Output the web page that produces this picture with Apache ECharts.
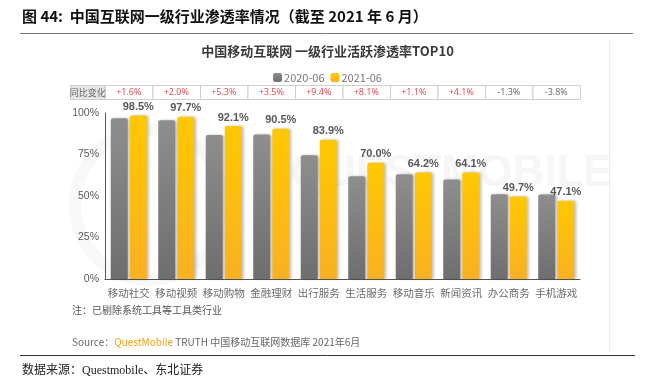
<!DOCTYPE html>
<html>
<head>
<meta charset="utf-8">
<script src="https://cdn.jsdelivr.net/npm/echarts@6/dist/echarts.min.js"></script>
<style>
html,body{margin:0;padding:0;background:#fff;}
#c{width:655px;height:387px;}
</style>
</head>
<body>
<div id="c"></div>
<script>
var categories = ['移动社交','移动视频','移动购物','金融理财','出行服务','生活服务','移动音乐','新闻资讯','办公商务','手机游戏'];
var v2020 = [96.9, 95.7, 86.8, 87.0, 74.5, 61.9, 63.1, 60.0, 51.0, 50.9];
var v2021 = [98.5, 97.7, 92.1, 90.5, 83.9, 70.0, 64.2, 64.1, 49.7, 47.1];
var yoy = ['+1.6%','+2.0%','+5.3%','+3.5%','+9.4%','+8.1%','+1.1%','+4.1%','-1.3%','-3.8%'];
var seriesNames = ['2020-06','2021-06'];
var yTicks = [0, 25, 50, 75, 100];

var CJK = '"Noto Sans CJK SC", "Liberation Sans", sans-serif';
var chart = echarts.init(document.getElementById('c'), null, {renderer: 'canvas'});

var option = {
  animation: false,
  backgroundColor: '#fff',
  grid: {left: 105, right: 75, top: 113, bottom: 108},
  legend: {
    data: seriesNames,
    top: 67, left: 'center',
    itemWidth: 9, itemHeight: 9, itemGap: 6,
    icon: 'roundRect',
    textStyle: {fontSize: 11, color: '#777', fontFamily: CJK, padding: [0,0,0,-3]}
  },
  xAxis: {
    type: 'category', data: categories,
    axisLine: {lineStyle: {color: '#555', width: 1}},
    axisTick: {show: false},
    axisLabel: {fontSize: 10.5, color: '#6a6a6a', fontFamily: CJK, margin: 9, interval: 0}
  },
  yAxis: {
    type: 'value', min: 0, max: 100, interval: 25,
    axisLine: {show: true, lineStyle: {color: '#555', width: 1}},
    axisTick: {show: false},
    splitLine: {show: false},
    axisLabel: {formatter: '{value}%', fontSize: 10.5, color: '#595959', fontFamily: '"Liberation Sans", sans-serif', margin: 6}
  },
  series: [
    {
      name: seriesNames[0], type: 'bar', data: v2020, barWidth: 17, barGap: '12%',
      itemStyle: {
        borderRadius: [2,2,0,0],
        color: new echarts.graphic.LinearGradient(0,0,0,1,[{offset:0,color:'#8e8e8e'},{offset:1,color:'#6e6e6e'}]),
        shadowColor: 'rgba(0,0,0,0.25)', shadowBlur: 3, shadowOffsetX: 2, shadowOffsetY: 0
      }
    },
    {
      name: seriesNames[1], type: 'bar', data: v2021, barWidth: 17,
      itemStyle: {
        borderRadius: [2,2,0,0],
        color: new echarts.graphic.LinearGradient(0,0,0,1,[{offset:0,color:'#ffc800'},{offset:1,color:'#f9b122'}]),
        shadowColor: 'rgba(0,0,0,0.25)', shadowBlur: 3, shadowOffsetX: 2, shadowOffsetY: 0
      },
      label: {
        show: true, position: 'top', distance: 3,
        formatter: function(p){ return p.value.toFixed(1) + '%'; },
        fontSize: 11, fontWeight: 'bold', color: '#585858', fontFamily: '"Liberation Sans", sans-serif'
      }
    }
  ]
};
chart.setOption(option);

var g = [];
// faint watermark
g.push({type:'text', z:-10, left: 290, top: 152, style:{text:'QUESTMOBILE', font:'bold 44px "Liberation Sans", sans-serif', fill:'#f6f6f6'}});
g.push({type:'circle', z:-10, shape:{cx:150, cy:205, r:75}, style:{fill:'none', stroke:'#f8f8f8', lineWidth:12}});
// header
g.push({type:'text', left: 22, top: 9, style:{text:'图 44:  中国互联网一级行业渗透率情况（截至 2021 年 6 月）', font:'bold 15px "Noto Sans CJK SC", serif', fill:'#111'}});
g.push({type:'line', shape:{x1:20, y1:33.5, x2:633, y2:33.5}, style:{stroke:'#777', lineWidth:1}});
// chart title
g.push({type:'text', left: 'center', top: 45, style:{text:'中国移动互联网 一级行业活跃渗透率TOP10', font:'bold 13px "Noto Sans CJK SC", sans-serif', fill:'#3a3a3a'}});
// right faint border
g.push({type:'line', shape:{x1:609.5, y1:40, x2:609.5, y2:352}, style:{stroke:'#eeeeee', lineWidth:1}});

// table row aligned with categories
var p0 = chart.convertToPixel({xAxisIndex:0}, 0);
var p1 = chart.convertToPixel({xAxisIndex:0}, 1);
var cw = p1 - p0;
var ty = 85, th = 14;
g.push({type:'rect', shape:{x:70.5, y:ty+0.5, width:(p0 - cw/2) - 70.5, height:th}, style:{fill:'#e6e6e6', stroke:'#cfcfcf', lineWidth:1}});
g.push({type:'text', style:{text:'同比变化', x:(70.5 + p0 - cw/2)/2, y:ty+th/2+0.5, align:'center', verticalAlign:'middle', font:'9px "Noto Sans CJK SC", sans-serif', fill:'#666'}});
for (var i = 0; i < categories.length; i++) {
  var cx = chart.convertToPixel({xAxisIndex:0}, i);
  var x0 = cx - cw/2;
  var pos = yoy[i].charAt(0) === '+';
  g.push({type:'rect', shape:{x:x0+0.5, y:ty+0.5, width:cw, height:th}, style:{fill:'#fff', stroke:'#cfcfcf', lineWidth:1}});
  g.push({type:'text', style:{text:yoy[i], x:cx, y:ty+th/2+0.5, align:'center', verticalAlign:'middle', font:'9px "Open Sans", "Liberation Sans", sans-serif', fill: pos ? '#e8454f' : '#666'}});
}
// note & source
g.push({type:'text', left: 72, top: 305, style:{text:'注：已剔除系统工具等工具类行业', font:'10px "Noto Sans CJK SC", sans-serif', fill:'#555'}});
g.push({type:'text', left: 72, top: 337, style:{
  text:'{a|Source：}{b|QuestMobile}{a| TRUTH 中国移动互联网数据库 2021年6月}',
  rich:{
    a:{font:'10px "Noto Sans CJK SC", sans-serif', fill:'#666'},
    b:{font:'10px "Noto Sans CJK SC", sans-serif', fill:'#f5a011'}
  }
}});
// footer
g.push({type:'line', shape:{x1:20, y1:355.5, x2:635, y2:355.5}, style:{stroke:'#333', lineWidth:1}});
g.push({type:'text', left: 22, top: 365, style:{text:'数据来源：Questmobile、东北证券', font:'12px "Liberation Serif", "Noto Sans CJK SC", serif', fill:'#222'}});

chart.setOption({graphic: g});
</script>
</body>
</html>
